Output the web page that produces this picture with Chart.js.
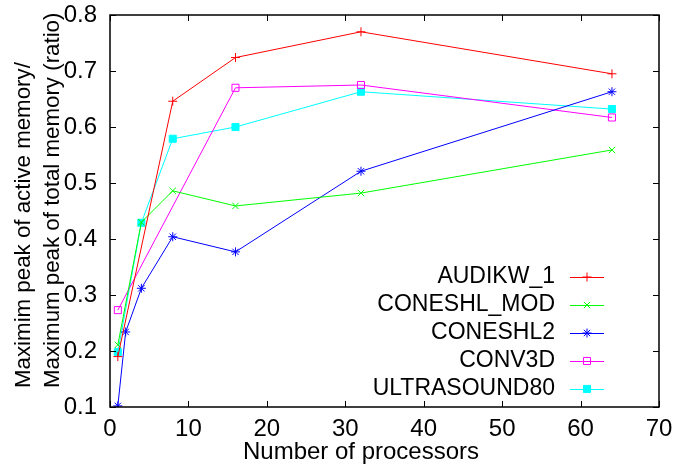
<!DOCTYPE html>
<html>
<head>
<meta charset="utf-8">
<script src="https://cdn.jsdelivr.net/npm/chart.js@4/dist/chart.umd.min.js"></script>
<style>
  html, body { margin: 0; padding: 0; background: #fff; }
  #wrap { width: 677px; height: 466px; }
</style>
</head>
<body>
<div id="wrap"><canvas id="chart1" width="677" height="466"></canvas></div>
<script>
  // series (x = number of processors, y = ratio)
  const names = ['AUDIKW_1', 'CONESHL_MOD', 'CONESHL2', 'CONV3D', 'ULTRASOUND80'];

  const audikwX = [1, 8, 16, 32, 64];
  const audikwY = [0.19, 0.646, 0.724, 0.770, 0.695];

  const coneshlModX = [1, 4, 8, 16, 32, 64];
  const coneshlModY = [0.211, 0.430, 0.486, 0.459, 0.482, 0.559];

  const coneshl2X = [1, 2, 4, 8, 16, 32, 64];
  const coneshl2Y = [0.102, 0.234, 0.312, 0.404, 0.377, 0.521, 0.663];

  const conv3dX = [1, 16, 32, 64];
  const conv3dY = [0.273, 0.670, 0.675, 0.617];

  const ultraX = [1, 4, 8, 16, 32, 64];
  const ultraY = [0.198, 0.429, 0.579, 0.600, 0.663, 0.632];

  const xTicks = [0, 10, 20, 30, 40, 50, 60, 70];
  const yTicks = [0.1, 0.2, 0.3, 0.4, 0.5, 0.6, 0.7, 0.8];

  const xTitle = 'Number of processors';
  const yTitle = ['Maximim peak of active memory/', 'Maximum peak of total memory (ratio)'];

  const FONT = "'Liberation Sans', Arial, sans-serif";

  function pts(xs, ys) {
    return xs.map((x, i) => ({ x: x, y: ys[i] }));
  }

  function serie(label, xs, ys, color, style, filled) {
    return {
      label: label,
      data: pts(xs, ys),
      borderColor: color,
      backgroundColor: filled ? color : 'rgba(0,0,0,0)',
      borderWidth: 1,
      pointStyle: style,
      pointRadius: style === 'rect' ? 5 : 4.5,
      pointBorderColor: color,
      pointBackgroundColor: filled ? color : 'rgba(0,0,0,0)',
      pointBorderWidth: 1,
      tension: 0
    };
  }

  // box with inward ticks on all 4 sides, like gnuplot
  const frame = {
    id: 'frame',
    afterDatasetsDraw(chart) {
      const c = chart.ctx;
      const a = chart.chartArea;
      const sx = chart.scales.x, sy = chart.scales.y;
      c.save();
      c.strokeStyle = '#000';
      c.lineWidth = 1;
      c.beginPath();
      xTicks.forEach(v => {
        const px = Math.round(sx.getPixelForValue(v)) + 0.5;
        c.moveTo(px, a.bottom); c.lineTo(px, a.bottom - 6);
        c.moveTo(px, a.top); c.lineTo(px, a.top + 6);
      });
      yTicks.forEach(v => {
        const py = Math.round(sy.getPixelForValue(v)) + 0.5;
        c.moveTo(a.left, py); c.lineTo(a.left + 6, py);
        c.moveTo(a.right, py); c.lineTo(a.right - 6, py);
      });
      c.stroke();
      c.lineWidth = 1.5;
      c.strokeRect(a.left, a.top, a.right - a.left, a.bottom - a.top);
      c.restore();
    }
  };

  // axis titles placed like gnuplot does
  const titles = {
    id: 'titles',
    afterDraw(chart) {
      const c = chart.ctx;
      c.save();
      c.fillStyle = '#000';
      c.font = '24px ' + FONT;
      c.textAlign = 'center';
      c.textBaseline = 'alphabetic';
      c.fillText(xTitle, 361, 459);
      c.font = '22.3px ' + FONT;
      c.textAlign = 'left';
      [29.5, 58.5].forEach((bx, i) => {
        c.save();
        c.translate(bx, 388);
        c.rotate(-Math.PI / 2);
        c.fillText(yTitle[i], 0, 0);
        c.restore();
      });
      c.restore();
    }
  };

  // legend inside the plot, text right aligned, sample to the right
  const keyBox = {
    id: 'keyBox',
    afterDraw(chart) {
      const c = chart.ctx;
      const textRight = 555, lineL = 570, lineR = 604, top = 277, step = 28;
      c.save();
      chart.data.datasets.forEach((ds, i) => {
        const y = top + i * step;
        c.fillStyle = '#000';
        c.font = '23px ' + FONT;
        c.textAlign = 'right';
        c.textBaseline = 'middle';
        c.fillText(ds.label, textRight, y);
        c.strokeStyle = ds.borderColor;
        c.lineWidth = 1;
        c.beginPath();
        c.moveTo(lineL, y + 0.5); c.lineTo(lineR, y + 0.5);
        c.stroke();
        c.fillStyle = ds.pointBackgroundColor;
        Chart.helpers.drawPoint(c, {
          pointStyle: ds.pointStyle, radius: ds.pointRadius, rotation: 0,
          borderWidth: 1
        }, (lineL + lineR) / 2, y);
      });
      c.restore();
    }
  };

  const ctx = document.getElementById('chart1').getContext('2d');

  new Chart(ctx, {
    type: 'line',
    data: {
      datasets: [
        serie(names[0], audikwX, audikwY, '#ff0000', 'cross', false),
        serie(names[1], coneshlModX, coneshlModY, '#00ff00', 'crossRot', false),
        serie(names[2], coneshl2X, coneshl2Y, '#0000ff', 'star', false),
        serie(names[3], conv3dX, conv3dY, '#ff00ff', 'rect', false),
        serie(names[4], ultraX, ultraY, '#00ffff', 'rect', true)
      ]
    },
    options: {
      responsive: false,
      animation: false,
      layout: { padding: { top: 15, right: 18, left: 0, bottom: 0 } },
      plugins: {
        legend: { display: false },
        tooltip: { enabled: false }
      },
      scales: {
        x: {
          type: 'linear',
          min: 0,
          max: 70,
          afterBuildTicks: s => { s.ticks = xTicks.map(v => ({ value: v })); },
          afterFit: s => { s.height = 59; s.paddingLeft = 0; s.paddingRight = 0; },
          grid: { display: false, drawTicks: false },
          border: { display: false },
          ticks: {
            color: '#000',
            padding: 8,
            font: { family: FONT, size: 24 },
            maxRotation: 0
          }
        },
        y: {
          min: 0.1,
          max: 0.8,
          afterBuildTicks: s => { s.ticks = yTicks.map(v => ({ value: v })); },
          afterFit: s => { s.width = 110; s.paddingTop = 0; s.paddingBottom = 0; },
          grid: { display: false, drawTicks: false },
          border: { display: false },
          ticks: {
            color: '#000',
            padding: 13,
            font: { family: FONT, size: 24 },
            callback: v => v.toFixed(1)
          }
        }
      }
    },
    plugins: [frame, titles, keyBox]
  });
</script>
</body>
</html>
